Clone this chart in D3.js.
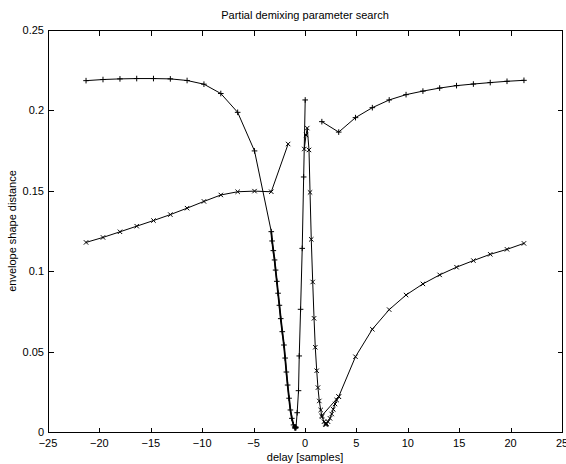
<!DOCTYPE html>
<html><head><meta charset="utf-8">
<script src="https://cdn.jsdelivr.net/npm/d3@7"></script>
<style>
html,body{margin:0;padding:0;background:#fff;}
svg{display:block;font-family:"Liberation Sans",Arial,Helvetica,sans-serif;}
</style></head>
<body><svg id="c" width="566" height="464"></svg>
<script>
// ---- data ----
const titleText = "Partial demixing parameter search";
const xLabel = "delay [samples]";
const yLabel = "envelope shape distance";
const xTicks = [-25,-20,-15,-10,-5,0,5,10,15,20,25];
const yTicks = [0,0.05,0.1,0.15,0.2,0.25];
const yTickLabels = ["0","0.05","0.1","0.15","0.2","0.25"];

// '+' series, left branch (coarse grid then refined descent, minimum, and sharp rise)
const plusLeftX = [-21.3,-19.65,-18.0,-16.37,-14.74,-13.1,-11.47,-9.83,-8.19,-6.55,-4.91,-3.28,
  -3.2,-3.08,-2.96,-2.86,-2.74,-2.62,-2.49,-2.36,-2.21,-2.05,-1.93,-1.81,-1.69,-1.55,-1.42,-1.28,-1.12,-1.0,
  -0.95,-0.9,-0.97,-0.88,
  -0.76,-0.63,-0.56,-0.43,-0.27,-0.13,0.02];
const plusLeftY = [0.2185,0.2192,0.2196,0.2198,0.2198,0.2196,0.2186,0.2163,0.2105,0.1988,0.1748,0.1246,
  0.1188,0.1128,0.107,0.1007,0.0937,0.0863,0.0788,0.0705,0.0624,0.0541,0.046,0.0373,0.0292,0.021,0.0137,0.0085,0.0044,0.0032,
  0.0027,0.0031,0.0024,0.0026,
  0.012,0.0257,0.0473,0.0763,0.1142,0.1586,0.2065];
// '+' series, right branch
const plusRightX = [1.64,3.28,4.91,6.55,8.19,9.83,11.47,13.1,14.74,16.38,18.02,19.65,21.3];
const plusRightY = [0.193,0.1865,0.1955,0.2017,0.2065,0.2098,0.212,0.2139,0.2154,0.2164,0.2173,0.2181,0.2187];

// 'x' series, left branch
const crossLeftX = [-21.3,-19.65,-18.0,-16.37,-14.74,-13.1,-11.47,-9.83,-8.19,-6.55,-4.91,-3.28,-1.64];
const crossLeftY = [0.1179,0.121,0.1245,0.128,0.1315,0.1352,0.1392,0.1434,0.1474,0.1494,0.1498,0.1494,0.1791];
// 'x' series, right branch (peak, refined descent, minimum, refined rise, coarse grid)
const crossRightX = [-0.07,0.1,0.22,0.39,0.49,0.61,0.75,0.88,1.0,1.14,1.26,1.39,1.53,1.65,1.85,
  2.0,2.06,1.98,2.1,
  2.24,2.43,2.6,2.75,2.92,3.08,3.28,
  4.91,6.55,8.19,9.83,11.47,13.1,14.74,16.38,18.02,19.65,21.3];
const crossRightY = [0.176,0.1847,0.189,0.1754,0.149,0.1198,0.0933,0.0707,0.0527,0.0381,0.0276,0.0193,0.0137,0.0095,0.0064,
  0.0054,0.0048,0.0046,0.0052,
  0.0064,0.0085,0.0112,0.0141,0.0174,0.0199,0.022,
  0.0468,0.0639,0.0761,0.0852,0.0921,0.0977,0.1025,0.1066,0.1105,0.1136,0.1173];
// 'x' series, coarse link between grid points near the minimum
const crossLinkX = [1.65,3.28];
const crossLinkY = [0.0102,0.022];

// ---- drawing ----
const svg = d3.select("#c");
const L = 48, R = 562, T = 30, B = 432;
const FS = 11;
const x = d3.scaleLinear().domain([-25,25]).range([L,R]);
const y = d3.scaleLinear().domain([0,0.25]).range([B,T]);

const zip = (xs,ys) => xs.map((v,i)=>[v,ys[i]]);
const line = d3.line().x(d=>x(d[0])).y(d=>y(d[1]));

const plot = svg.append("g");
function drawSeries(pts, marker, width){
  plot.append("path").attr("d", line(pts)).attr("fill","none")
    .attr("stroke","#000").attr("stroke-width", width || 1);
  const g = plot.append("g").attr("stroke","#000").attr("stroke-width",1).attr("fill","none");
  pts.forEach(p=>{
    const cx = x(p[0]), cy = y(p[1]);
    if(marker==="+"){
      const s = 2.8;
      g.append("path").attr("d",`M${cx-s},${cy}H${cx+s}M${cx},${cy-s}V${cy+s}`);
    } else {
      const s = 2.2;
      g.append("path").attr("d",`M${cx-s},${cy-s}L${cx+s},${cy+s}M${cx-s},${cy+s}L${cx+s},${cy-s}`);
    }
  });
}
const pl = zip(plusLeftX, plusLeftY);
drawSeries(pl, "+");
// the refined descent is drawn over twice in the reference, appearing bolder
plot.append("path").attr("d", line(pl.slice(11,31))).attr("fill","none").attr("stroke","#000").attr("stroke-width",1.8);
drawSeries(zip(plusRightX, plusRightY), "+");
drawSeries(zip(crossLeftX, crossLeftY), "x");
drawSeries(zip(crossRightX, crossRightY), "x");
drawSeries(zip(crossLinkX, crossLinkY), "x");

// axes box
const ax = svg.append("g").attr("shape-rendering","crispEdges");
ax.append("rect").attr("x",L+0.5).attr("y",T+0.5).attr("width",R-L).attr("height",B-T)
  .attr("fill","none").attr("stroke","#000").attr("stroke-width",1);
const tl = 5;
xTicks.forEach(t=>{
  const px = Math.round(x(t))+0.5;
  if(t!==-25 && t!==25){
    ax.append("line").attr("x1",px).attr("x2",px).attr("y1",B+0.5).attr("y2",B+0.5-tl).attr("stroke","#000");
    ax.append("line").attr("x1",px).attr("x2",px).attr("y1",T+0.5).attr("y2",T+0.5+tl).attr("stroke","#000");
  }
  svg.append("text").attr("x",x(t)).attr("y",B+15).attr("text-anchor","middle")
    .attr("font-size",FS).text(t<0 ? "\u2212"+Math.abs(t) : String(t));
});
yTicks.forEach((t,i)=>{
  const py = Math.round(y(t))+0.5;
  if(t!==0 && t!==0.25){
    ax.append("line").attr("x1",L+0.5).attr("x2",L+0.5+tl).attr("y1",py).attr("y2",py).attr("stroke","#000");
    ax.append("line").attr("x1",R+0.5).attr("x2",R+0.5-tl).attr("y1",py).attr("y2",py).attr("stroke","#000");
  }
  svg.append("text").attr("x",L-4).attr("y",y(t)+4).attr("text-anchor","end")
    .attr("font-size",FS).text(yTickLabels[i]);
});

svg.append("text").attr("x",(L+R)/2).attr("y",19).attr("text-anchor","middle").attr("font-size",FS).text(titleText);
svg.append("text").attr("x",(L+R)/2).attr("y",461).attr("text-anchor","middle").attr("font-size",FS).text(xLabel);
svg.append("text").attr("transform",`translate(16,${(T+B)/2}) rotate(-90)`).attr("text-anchor","middle")
  .attr("font-size",FS).text(yLabel);
</script></body></html>
